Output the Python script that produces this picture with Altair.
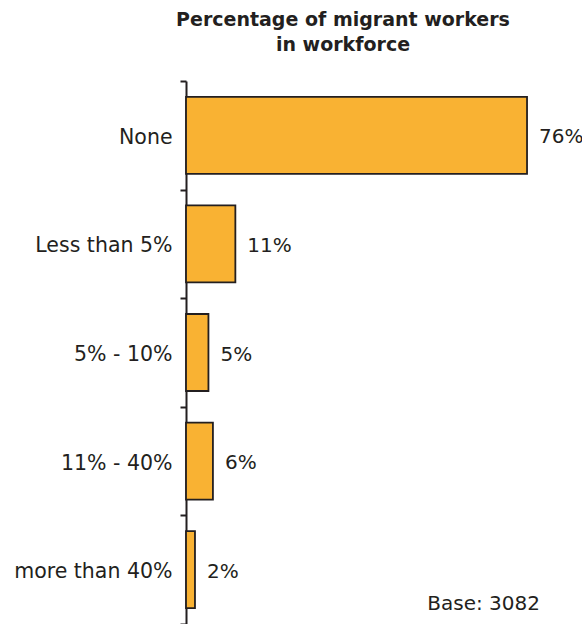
import altair as alt
import pandas as pd

categories = ["None", "Less than 5%", "5% - 10%", "11% - 40%", "more than 40%"]
values = [76, 11, 5, 6, 2]
labels = ["76%", "11%", "5%", "6%", "2%"]
title_lines = ["Percentage of migrant workers", "in workforce"]
base_note = "Base: 3082"

df = pd.DataFrame({"cat": categories, "val": values, "lab": labels})

FONT = "DejaVu Sans"
DARK = "#231f20"

y_enc = alt.Y(
    "cat:N",
    sort=categories,
    title=None,
    scale=alt.Scale(paddingInner=0, paddingOuter=0),
    axis=alt.Axis(
        tickBand="extent",
        tickSize=6,
        tickWidth=2,
        tickColor=DARK,
        domainColor=DARK,
        domainWidth=2,
        labelFont=FONT,
        labelFontSize=20.5,
        labelColor=DARK,
        labelPadding=8,
        labelBaseline="middle",
        labelOffset=2,
    ),
)
x_enc = alt.X("val:Q", axis=None, scale=alt.Scale(domain=[0, 88.25]))

bars = alt.Chart(df).mark_bar(
    size=77, color="#F9B233", stroke=DARK, strokeWidth=1.8
).encode(x=x_enc, y=y_enc)

text = alt.Chart(df).mark_text(
    align="left", baseline="middle", dx=12, dy=2, font=FONT, fontSize=20, color=DARK
).encode(x=x_enc, y=alt.Y("cat:N", sort=categories), text="lab:N")

note = alt.Chart(pd.DataFrame({"t": [base_note]})).mark_text(
    align="right", baseline="middle", font=FONT, fontSize=20, color=DARK
).encode(x=alt.value(354), y=alt.value(523), text="t:N")

chart = (
    alt.layer(bars, text, note)
    .properties(
        width=396,
        height=543,
        autosize=alt.AutoSizeParams(type="none"),
        padding={"left": 186, "top": 81, "right": 0, "bottom": 0},
        title=alt.TitleParams(
            text=title_lines,
            font=FONT,
            fontSize=19,
            fontWeight="bold",
            color=DARK,
            anchor="middle",
            frame="group",
            dx=-41,
            offset=16,
            lineHeight=25,
        ),
    )
    .configure_view(stroke=None)
)

chart.save("out.html", embed_options={"renderer": "svg", "actions": False})
